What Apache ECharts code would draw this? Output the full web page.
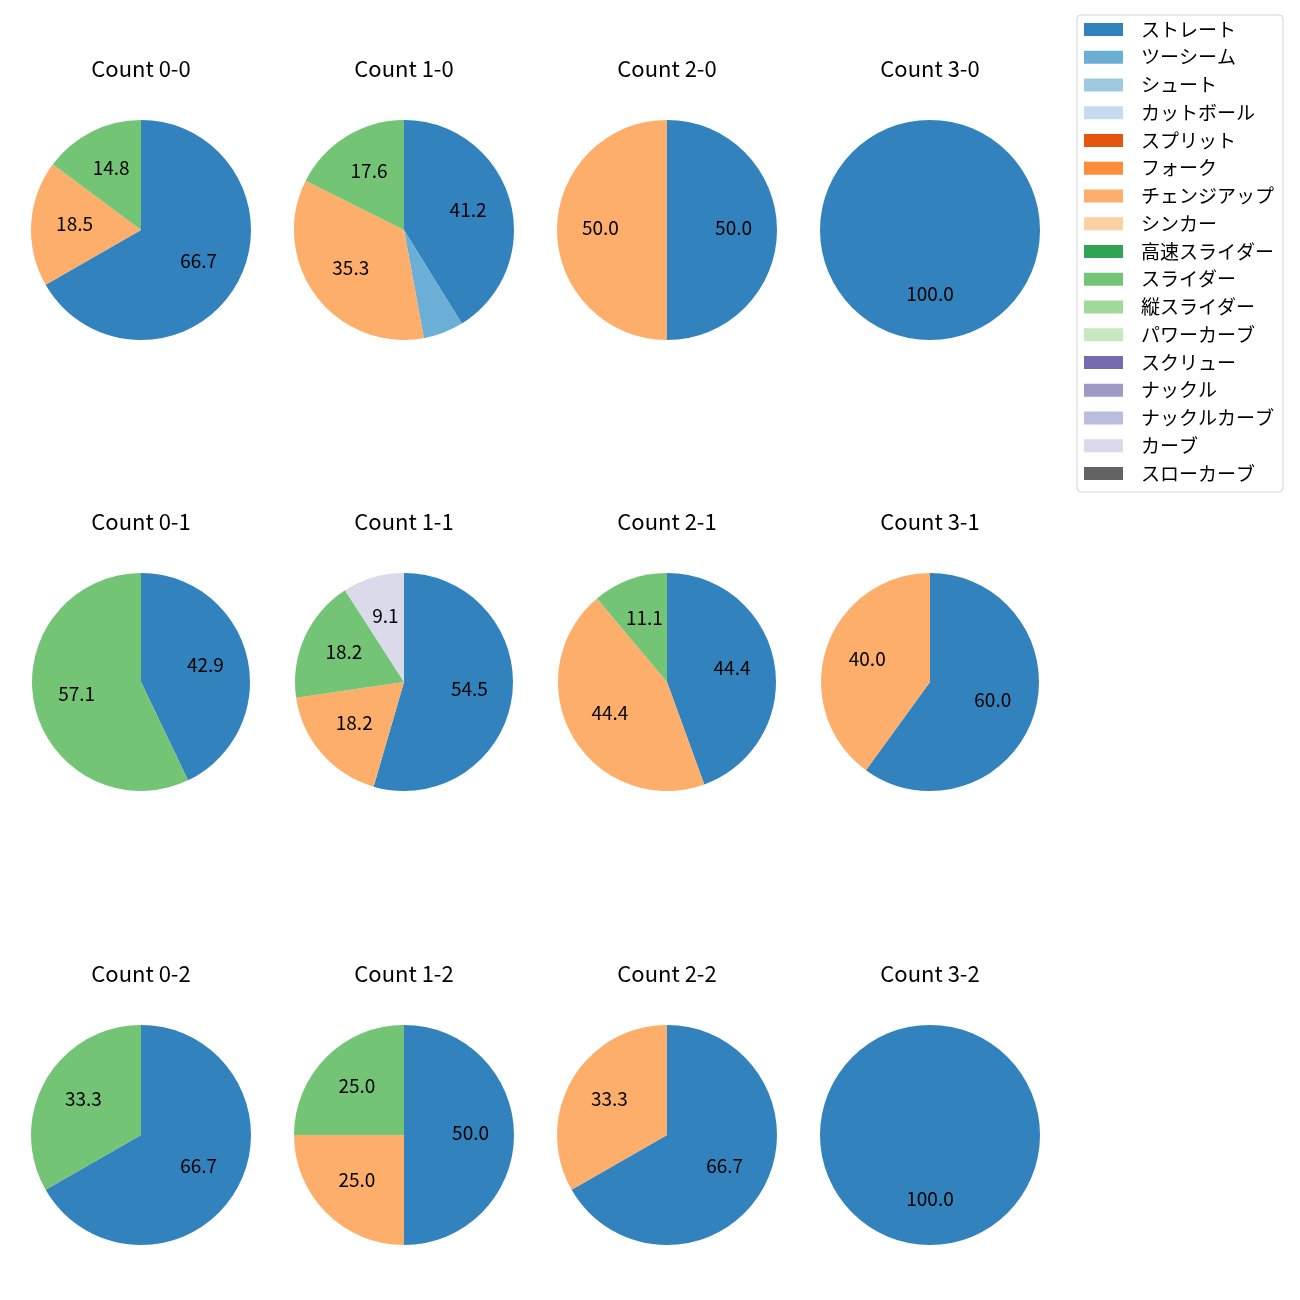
<!DOCTYPE html>
<html><head><meta charset="utf-8">
<script src="https://cdn.jsdelivr.net/npm/echarts@6/dist/echarts.min.js"></script>
<style>html,body{margin:0;padding:0;background:#fff}#c{width:1300px;height:1300px}</style>
</head><body><div id="c"></div>
<script>
const categories = ['ストレート','ツーシーム','シュート','カットボール','スプリット','フォーク','チェンジアップ','シンカー','高速スライダー','スライダー','縦スライダー','パワーカーブ','スクリュー','ナックル','ナックルカーブ','カーブ','スローカーブ'];
const colors = ['#3182bd','#6baed6','#9ecae1','#c6dbef','#e6550d','#fd8d3c','#fdae6b','#fdd0a2','#31a354','#74c476','#a1d99b','#c7e9c0','#756bb1','#9e9ac8','#bcbddc','#dadaeb','#636363'];
const panelTitles = ['Count 0-0','Count 1-0','Count 2-0','Count 3-0','Count 0-1','Count 1-1','Count 2-1','Count 3-1','Count 0-2','Count 1-2','Count 2-2','Count 3-2'];
const panelNames = [
  ['ストレート','チェンジアップ','スライダー'],
  ['ストレート','ツーシーム','チェンジアップ','スライダー'],
  ['ストレート','チェンジアップ'],
  ['ストレート'],
  ['ストレート','スライダー'],
  ['ストレート','チェンジアップ','スライダー','カーブ'],
  ['ストレート','チェンジアップ','スライダー'],
  ['ストレート','チェンジアップ'],
  ['ストレート','スライダー'],
  ['ストレート','チェンジアップ','スライダー'],
  ['ストレート','チェンジアップ'],
  ['ストレート']
];
const panelValues = [
  [66.7,18.5,14.8],
  [41.2,5.9,35.3,17.6],
  [50.0,50.0],
  [100.0],
  [42.9,57.1],
  [54.5,18.2,18.2,9.1],
  [44.4,44.4,11.1],
  [60.0,40.0],
  [66.7,33.3],
  [50.0,25.0,25.0],
  [66.7,33.3],
  [100.0]
];
const labelMin = 7;

const colX = [141, 404, 667, 930];
const rowY = [230, 682, 1135];
const rowR = [110, 109, 110];
const titleY = [69, 522, 974];
const FONT = 'Noto Sans CJK JP';
const colorOf = n => colors[categories.indexOf(n)];

const series = [{
  type:'pie', radius:0, center:[-500,-500], silent:true,
  label:{show:false}, labelLine:{show:false},
  data: categories.map((n,i)=>({name:n, value:1, itemStyle:{color:colors[i]}}))
}];
const graphics = [];
panelTitles.forEach((t, k) => {
  const c = k % 4, r = Math.floor(k / 4);
  const cx = colX[c], cy = rowY[r], R = rowR[r];
  const data = panelNames[k].map((n,i)=>({name:n, value:panelValues[k][i], itemStyle:{color:colorOf(n)}}));
  series.push({
    type:'pie', center:[cx, cy], radius:[0, R], startAngle:90, clockwise:true,
    avoidLabelOverlap:false, silent:true, animation:false,
    itemStyle:{borderWidth:0},
    emphasis:{scale:false},
    label:{show:false}, labelLine:{show:false},
    data
  });
  series.push({
    type:'pie', center:[cx, cy], radius:[0, R*1.156], startAngle:90, clockwise:true,
    avoidLabelOverlap:false, silent:true, animation:false, z:5,
    itemStyle:{color:'rgba(0,0,0,0)', borderWidth:0},
    emphasis:{scale:false},
    label:{show:true, position:'inside', fontSize:19, fontFamily:FONT, color:'#000', offset:[0,-2.5],
      formatter: p => p.value >= labelMin ? p.value.toFixed(1) : ''},
    labelLine:{show:false},
    data: panelNames[k].map((n,i)=>({name:n, value:panelValues[k][i]}))
  });
  graphics.push({type:'text', x:cx, y:titleY[r], silent:true,
    style:{text:t, textAlign:'center', textVerticalAlign:'middle', fontSize:22, fontFamily:FONT, fill:'#000'}});
});

const chart = echarts.init(document.getElementById('c'), null, {renderer:'canvas'});
chart.setOption({
  backgroundColor:'#fff',
  animation:false,
  legend:{
    orient:'vertical', left:1077, top:15, data:categories,
    icon:'rect', itemWidth:39, itemHeight:13, itemGap:8.75,
    padding:[5, 9, 9, 7],
    borderColor:'#d5d5d5', borderWidth:1, borderRadius:4, backgroundColor:'rgba(255,255,255,0.8)',
    textStyle:{fontSize:19, lineHeight:19, fontFamily:FONT, color:'#000', padding:[0,0,0,13]}
  },
  graphic: graphics,
  series
});
</script></body></html>
